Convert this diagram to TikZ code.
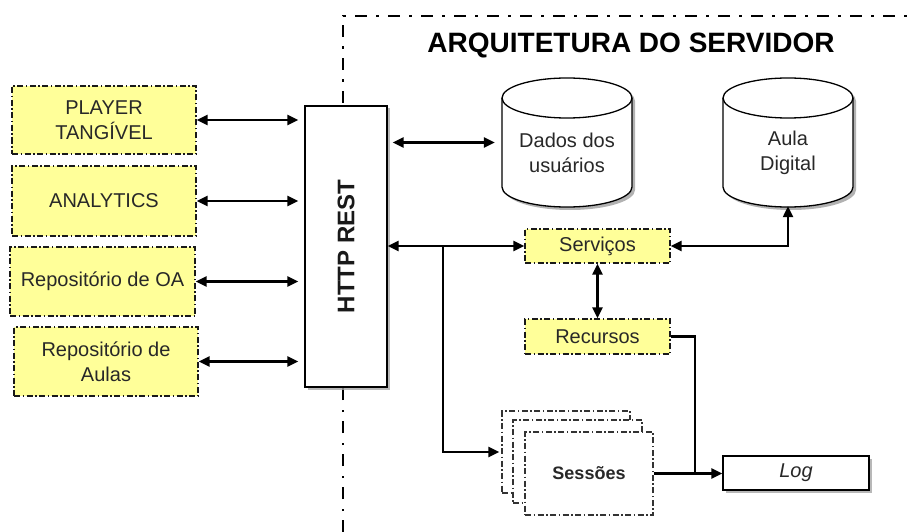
\documentclass[tikz,border=0pt]{standalone}
\usepackage{fontspec}
\setmainfont{Liberation Sans}
\usetikzlibrary{arrows.meta,shadows,calc}
\definecolor{boxyellow}{RGB}{255,255,153}
\definecolor{txt}{RGB}{40,40,40}
\begin{document}
\begin{tikzpicture}[x=1pt,y=-1pt,
  every node/.style={font=\fontsize{20}{25}\selectfont, inner sep=0pt, align=center, text=txt},
  ybox/.style={draw=black!90, fill=boxyellow, line width=1.3pt, dash pattern=on 6pt off 2.5pt on 1.5pt off 2.5pt},
  tip/.tip={Triangle[length=11pt,width=10pt]},
  conn/.style={line width=2.3pt, tip-tip},
  oneway/.style={line width=2.3pt, -tip},
  plain/.style={line width=2.3pt},
  shad/.style={drop shadow={shadow xshift=2.5pt,shadow yshift=-2.5pt,fill=gray!70,opacity=0.8}},
  sessbox/.style={draw=black!80, fill=white, line width=1.2pt, dash pattern=on 6pt off 2.5pt on 1.5pt off 2.5pt},
  framel/.style={line width=2.3pt, dash pattern=on 12pt off 9pt on 2.5pt off 9.5pt}
]
\useasboundingbox (0,0) rectangle (907,532);

% server frame
\draw[framel] (343,532) -- (343,16) -- (907,16);

% title
\node[font=\bfseries\fontsize{28}{32}\selectfont, text=black] (title) at (631,45) {ARQUITETURA DO SERVIDOR};

% left boxes
\node[ybox, minimum width=184pt, minimum height=68pt] (player) at (104,120) {PLAYER\\TANGÍVEL};
\node[ybox, minimum width=184pt, minimum height=70pt] (analytics) at (104,201) {ANALYTICS};
\node[ybox, minimum width=185pt, minimum height=69pt] (repoa) at (102.5,281.5) {Repositório de OA};
\node[ybox, minimum width=184pt, minimum height=69pt] (repaulas) at (106,361.5) {Repositório de\\Aulas};

% HTTP REST
\node[draw, fill=white, line width=1.2pt, minimum width=82pt, minimum height=281pt, shad] (http) at (346,246.5) {};
\node[rotate=90, font=\bfseries\fontsize{24}{28}\selectfont, text=black!90] (httplabel) at (http.center) {HTTP REST};

% cylinders
\foreach \cx in {567,788} {
  \fill[gray!60] (\cx-62,101) -- (\cx-62,190) arc[start angle=180,end angle=360,x radius=65pt,y radius=20pt] -- (\cx+68,101) arc[start angle=0,end angle=180,x radius=65pt,y radius=20pt] -- cycle;
  \draw[line width=1.3pt, fill=white] (\cx-65,98) -- (\cx-65,187) arc[start angle=180,end angle=360,x radius=65pt,y radius=20pt] -- (\cx+65,98) arc[start angle=0,end angle=180,x radius=65pt,y radius=20pt] -- cycle;
  \draw[line width=1.3pt] (\cx-65,98) arc[start angle=180,end angle=360,x radius=65pt,y radius=20pt];
}
\node[minimum width=130pt, minimum height=129pt] (dados) at (567,142.5) {};
\node (dadostxt) at (567,152.5) {Dados dos\\usuários};
\node[minimum width=130pt, minimum height=129pt] (aula) at (788,142.5) {};
\node (aulatxt) at (788,152.5) {Aula\\Digital};

% services
\node[ybox, minimum width=145pt, minimum height=34pt] (serv) at (597.5,246) {Serviços};
\node[ybox, minimum width=145pt, minimum height=35pt] (rec) at (597.5,336.5) {Recursos};

% sessions stack
\node[sessbox, minimum width=128pt, minimum height=82pt] (sess3) at (566,452) {};
\node[sessbox, minimum width=129pt, minimum height=83pt] (sess2) at (577.5,461.5) {};
\node[sessbox, minimum width=128pt, minimum height=83pt, font=\bfseries\fontsize{18}{22}\selectfont] (sess) at (589,473.5) {Sessões};

% log
\node[draw, fill=white, line width=1.2pt, minimum width=146pt, minimum height=34pt, shad, font=\itshape\fontsize{20}{24}\selectfont] (log) at (796,473) {Log};

% connectors left
\draw[conn, shorten >=6pt] (player.east) -- (player.east -| http.west);
\draw[conn, shorten >=6pt] (analytics.east) -- (analytics.east -| http.west);
\draw[conn, shorten >=6pt] (repoa.east) -- (repoa.east -| http.west);
\draw[conn, shorten >=6pt] (repaulas.east) -- (repaulas.east -| http.west);

% connectors right
\draw[conn, shorten <=5pt, shorten >=7pt] (http.east |- dados.west) -- (dados.west);
\draw[conn] (http.east |- serv.west) -- (serv.west);
\coordinate (br) at (443,246);
\draw[oneway, shorten >=2pt] (br) |- (sess3.west);
\draw[conn] (serv.south) -- (rec.north);
\draw[conn, shorten >=-1pt] (serv.east) -- (serv.east -| aula.south) -- (aula.south);
\coordinate (jn) at (695,473.5);
\draw[plain] (rec.east) -| (jn);
\draw[oneway] (sess.east) -- (sess.east -| log.west);
\end{tikzpicture}
\end{document}
